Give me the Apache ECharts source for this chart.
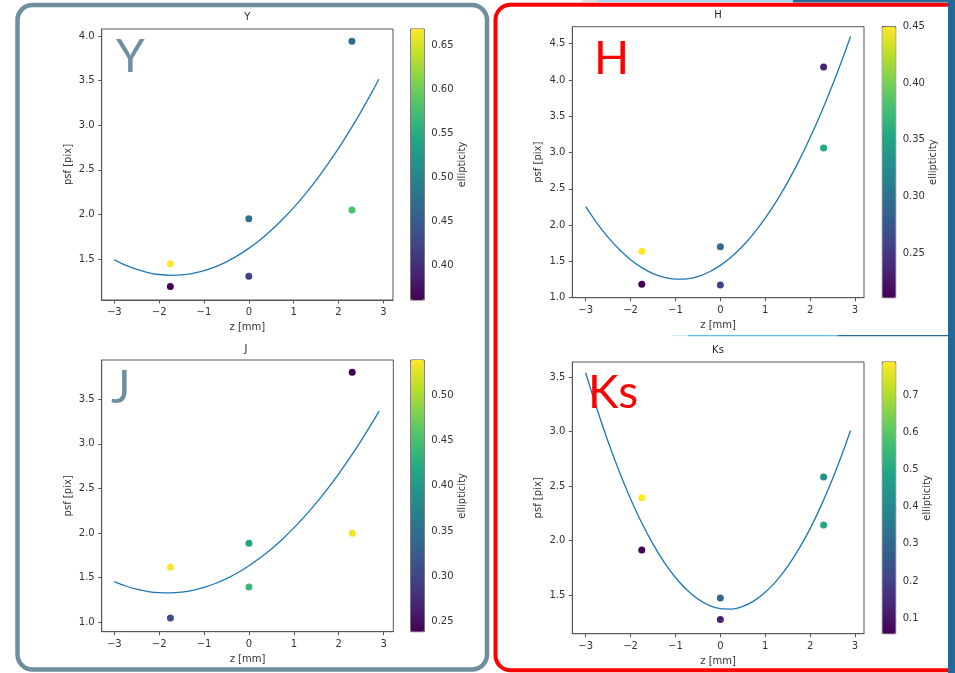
<!DOCTYPE html>
<html><head><meta charset="utf-8">
<script src="https://cdn.jsdelivr.net/npm/echarts@6/dist/echarts.min.js"></script>
<style>html,body{margin:0;padding:0;background:#fff}#c{width:955px;height:673px}</style>
</head><body><div id="c"></div><script>
// ---- data ----
const zFit = [-3, -2.75, -2.5, -2.25, -2, -1.75, -1.5, -1.25, -1, -0.75, -0.5, -0.25, 0,
              0.25, 0.5, 0.75, 1, 1.25, 1.5, 1.75, 2, 2.25, 2.5, 2.75, 2.9];
const fitY  = [1.490, 1.430, 1.382, 1.348, 1.326, 1.317, 1.321, 1.339, 1.369, 1.412, 1.468, 1.537, 1.619,
               1.713, 1.821, 1.942, 2.075, 2.222, 2.381, 2.554, 2.739, 2.938, 3.149, 3.373, 3.514];
const fitH  = [2.254, 2.028, 1.832, 1.664, 1.524, 1.414, 1.332, 1.279, 1.255, 1.259, 1.292, 1.354, 1.445,
               1.565, 1.713, 1.890, 2.096, 2.330, 2.593, 2.885, 3.206, 3.556, 3.934, 4.341, 4.599];
const fitJ  = [1.452, 1.404, 1.368, 1.342, 1.329, 1.327, 1.336, 1.356, 1.388, 1.432, 1.487, 1.553, 1.631,
               1.720, 1.820, 1.932, 2.056, 2.191, 2.337, 2.495, 2.664, 2.844, 3.036, 3.240, 3.367];
const fitKs = [3.539, 3.209, 2.907, 2.631, 2.383, 2.162, 1.969, 1.802, 1.663, 1.551, 1.466, 1.408, 1.377,
               1.374, 1.398, 1.449, 1.527, 1.632, 1.765, 1.925, 2.111, 2.326, 2.567, 2.835, 3.009];

const zPts = [-1.75, -1.75, 0, 0, 2.3, 2.3];
const psfY  = [1.447, 1.19, 1.95, 1.306, 3.94, 2.05];
const ellY  = [0.669, 0.361, 0.475, 0.42, 0.47, 0.58];
const psfH  = [1.64, 1.185, 1.703, 1.175, 4.18, 3.063];
const ellH  = [0.45, 0.2105, 0.294, 0.258, 0.234, 0.354];
const psfJ  = [1.614, 1.045, 1.884, 1.393, 3.803, 1.996];
const ellJ  = [0.539, 0.314, 0.413, 0.44, 0.239, 0.533];
const psfKs = [2.394, 1.915, 1.475, 1.277, 2.584, 2.144];
const ellKs = [0.789, 0.0586, 0.30, 0.13, 0.424, 0.497];

const zTicks = [-3, -2, -1, 0, 1, 2, 3];
const psfTicksY  = [1.5, 2.0, 2.5, 3.0, 3.5, 4.0];
const psfTicksH  = [1.0, 1.5, 2.0, 2.5, 3.0, 3.5, 4.0, 4.5];
const psfTicksJ  = [1.0, 1.5, 2.0, 2.5, 3.0, 3.5];
const psfTicksKs = [1.5, 2.0, 2.5, 3.0, 3.5];
const ellTicksY  = [0.40, 0.45, 0.50, 0.55, 0.60, 0.65];
const ellTicksH  = [0.25, 0.30, 0.35, 0.40, 0.45];
const ellTicksJ  = [0.25, 0.30, 0.35, 0.40, 0.45, 0.50];
const ellTicksKs = [0.1, 0.2, 0.3, 0.4, 0.5, 0.6, 0.7];

const bands = ['Y', 'H', 'J', 'Ks'];
// ---------------------------------------

const viridis = ['#440154','#482475','#414487','#355f8d','#2a788e','#21918c','#22a884','#44bf70','#7ad151','#bddf26','#fde725'];
const FONT = 'DejaVu Sans';
const TXT = '#333';
const SPINE = '#555';

const panels = [
  {fit: fitY, psf: psfY, ell: ellY, yt: psfTicksY, et: ellTicksY, ed: 2,
   g: {left: 101.7, top: 29, width: 291.3, height: 271}, xr: [-3.281, 3.216], yr: [1.04, 4.078],
   cbLeft: 410.7, cbW: 13.6, er: [0.361, 0.669], cbGap: 33,
   big: {t: 'Y', x: 116, y: 57, c: '#6f8fa1'}, title: {x: 247.4, y: 17}},
  {fit: fitH, psf: psfH, ell: ellH, yt: psfTicksH, et: ellTicksH, ed: 2,
   g: {left: 572.3, top: 26.7, width: 291.7, height: 271}, xr: [-3.298, 3.2], yr: [1.0, 4.734],
   cbLeft: 882.3, cbW: 13.4, er: [0.2105, 0.45], cbGap: 32,
   big: {t: 'H', x: 594, y: 58.7, c: '#ff0000'}, title: {x: 718, y: 15.3}},
  {fit: fitJ, psf: psfJ, ell: ellJ, yt: psfTicksJ, et: ellTicksJ, ed: 2,
   g: {left: 101.7, top: 360, width: 291.6, height: 271.7}, xr: [-3.281, 3.216], yr: [0.891, 3.941],
   cbLeft: 410.7, cbW: 13.6, er: [0.239, 0.539], cbGap: 33,
   big: {t: 'J', x: 111, y: 388, c: '#6f8fa1'}, title: {x: 246, y: 349}},
  {fit: fitKs, psf: psfKs, ell: ellKs, yt: psfTicksKs, et: ellTicksKs, ed: 1,
   g: {left: 572.3, top: 362, width: 291.7, height: 271.7}, xr: [-3.298, 3.2], yr: [1.148, 3.637],
   cbLeft: 882.3, cbW: 13.4, er: [0.0586, 0.789], cbGap: 25,
   big: {t: 'Ks', x: 588, y: 393, c: '#ff0000'}, title: {x: 718, y: 350.7}}
];

const labelStyle = {fontFamily: FONT, fontSize: 10, color: TXT};
const grid = [], xAxis = [], yAxis = [], series = [], visualMap = [];
const graphic = [];

panels.forEach((p, i) => {
  const gi = 2 * i, ci = 2 * i + 1;
  grid.push(Object.assign({show: true, borderColor: SPINE, borderWidth: 1, backgroundColor: 'transparent', containLabel: false}, p.g));
  grid.push({show: true, borderColor: SPINE, borderWidth: 1, backgroundColor: 'transparent',
             left: p.cbLeft, top: p.g.top, width: p.cbW, height: p.g.height});
  xAxis.push({
    gridIndex: gi, type: 'value', min: p.xr[0], max: p.xr[1],
    axisLine: {show: true, onZero: false, lineStyle: {color: SPINE, width: 1}},
    axisTick: {show: true, customValues: zTicks, length: 3.5, lineStyle: {color: SPINE}},
    axisLabel: Object.assign({customValues: zTicks, margin: 7.5,
      formatter: v => (v < 0 ? '\u2212' + Math.abs(v) : String(v))}, labelStyle),
    splitLine: {show: false},
    name: 'z [mm]', nameLocation: 'middle', nameGap: 22.5, nameTextStyle: labelStyle
  });
  xAxis.push({gridIndex: ci, type: 'value', show: false, min: 0, max: 1});
  yAxis.push({
    gridIndex: gi, type: 'value', min: p.yr[0], max: p.yr[1],
    axisLine: {show: true, onZero: false, lineStyle: {color: SPINE, width: 1}},
    axisTick: {show: true, customValues: p.yt, length: 3.5, lineStyle: {color: SPINE}},
    axisLabel: Object.assign({customValues: p.yt, margin: 7, formatter: v => v.toFixed(1)}, labelStyle),
    splitLine: {show: false},
    name: 'psf [pix]', nameLocation: 'middle', nameGap: 28.5, nameRotate: 90, nameTextStyle: labelStyle
  });
  yAxis.push({
    gridIndex: ci, type: 'value', position: 'right', min: p.er[0], max: p.er[1],
    axisLine: {show: false},
    axisTick: {show: true, customValues: p.et, length: 3.5, lineStyle: {color: SPINE}},
    axisLabel: Object.assign({customValues: p.et, margin: 7, formatter: v => v.toFixed(p.ed)}, labelStyle),
    splitLine: {show: false},
    name: 'ellipticity', nameLocation: 'middle', nameGap: p.cbGap, nameRotate: 90, nameTextStyle: labelStyle
  });
  series.push({
    type: 'line', xAxisIndex: gi, yAxisIndex: gi, z: 2, silent: true,
    data: zFit.map((z, k) => [z, p.fit[k]]), smooth: 0.3, showSymbol: false,
    lineStyle: {color: '#1f77b4', width: 1.3}
  });
  series.push({
    type: 'scatter', xAxisIndex: gi, yAxisIndex: gi, z: 3, symbolSize: 7,
    itemStyle: {opacity: 1},
    data: zPts.map((z, k) => [z, p.psf[k], p.ell[k]])
  });
  visualMap.push({
    type: 'continuous', seriesIndex: 2 * i + 1, dimension: 2, min: p.er[0], max: p.er[1],
    inRange: {color: viridis}, orient: 'vertical', calculable: false, hoverLink: false,
    itemWidth: p.cbW, itemHeight: p.g.height, left: p.cbLeft, top: p.g.top, padding: 0, text: null,
    showLabel: false
  });
  graphic.push({type: 'text', x: p.title.x, y: p.title.y, silent: true,
    style: {text: bands[i], fontFamily: FONT, fontSize: 10, fill: '#222', align: 'center', verticalAlign: 'middle'}});
  graphic.push({type: 'text', x: p.big.x, y: p.big.y, silent: true, z: 10,
    style: {text: p.big.t, fontFamily: 'Lato', fontSize: 46, fill: p.big.c, align: 'left', verticalAlign: 'middle'}});
});

// frames and screenshot edges
graphic.push(
  {type: 'rect', silent: true, z: 20, shape: {x: 17.5, y: 5, width: 469.5, height: 664.5, r: 15},
   style: {fill: 'none', stroke: '#6f8fa1', lineWidth: 4.5}},
  {type: 'rect', silent: true, z: 20, shape: {x: 495.5, y: 4.7, width: 480, height: 665.5, r: 15},
   style: {fill: 'none', stroke: '#ff0000', lineWidth: 4}},
  {type: 'rect', silent: true, z: 21, shape: {x: 582, y: 0, width: 16, height: 2}, style: {fill: '#dcdcdc'}},
  {type: 'rect', silent: true, z: 21, shape: {x: 598, y: 0, width: 195, height: 2}, style: {fill: '#a6d9f2'}},
  {type: 'rect', silent: true, z: 21, shape: {x: 793, y: 0, width: 160, height: 2.5}, style: {fill: '#2a6a9a'}},
  {type: 'rect', silent: true, z: 21, shape: {x: 673, y: 335, width: 15, height: 1.2}, style: {fill: '#cdeaf7'}},
  {type: 'rect', silent: true, z: 21, shape: {x: 688, y: 335, width: 150, height: 1.3}, style: {fill: '#5bc0eb'}},
  {type: 'rect', silent: true, z: 21, shape: {x: 838, y: 335, width: 112, height: 1.3}, style: {fill: '#2a6a9a'}},
  {type: 'rect', silent: true, z: 22, shape: {x: 948, y: 0, width: 7, height: 673}, style: {fill: '#26679a'}}
);

const chart = echarts.init(document.getElementById('c'), null, {renderer: 'canvas'});
chart.setOption({
  animation: false, backgroundColor: '#fff',
  grid, xAxis, yAxis, series, visualMap, graphic
});
</script></body></html>
